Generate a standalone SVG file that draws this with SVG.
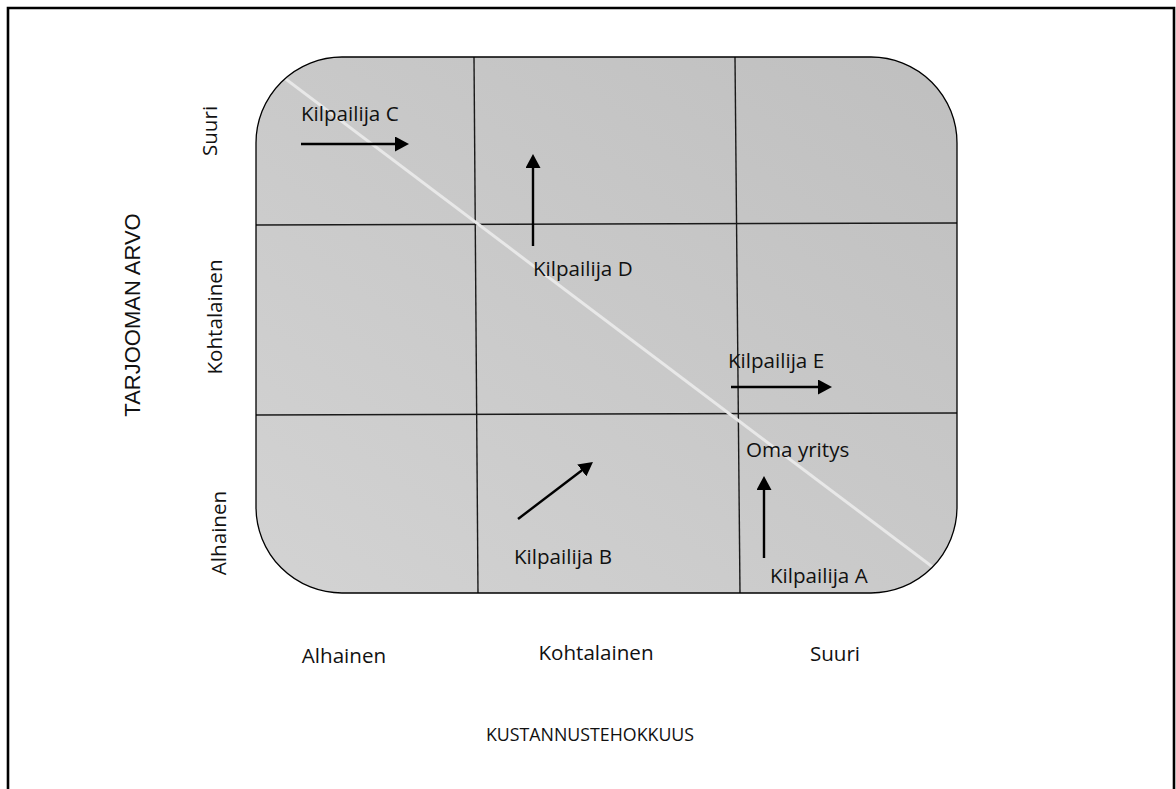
<svg xmlns="http://www.w3.org/2000/svg" width="1176" height="789" viewBox="0 0 1176 789">
  <style>
    .lbl { font-family: "Open Sans", "Noto Sans", sans-serif; font-size: 20.6px; fill: #111; }
    .ttl { font-family: "Open Sans", "Noto Sans", sans-serif; font-size: 17.8px; fill: #111; }
    .ax { font-family: "Liberation Sans", Arial, sans-serif; font-size: 22px; fill: #111; }
    .grid { stroke: #1a1a1a; stroke-width: 1.4; fill: none; }
    .arr { stroke: #000; stroke-width: 2.4; fill: none; marker-end: url(#head); }
  </style>
  <defs>
    <linearGradient id="bg" x1="0" y1="1" x2="1" y2="0">
      <stop offset="0" stop-color="#d3d3d3"/>
      <stop offset="1" stop-color="#bfbfbf"/>
    </linearGradient>
    <clipPath id="clip">
      <rect x="256" y="57" width="701" height="536" rx="86" ry="86"/>
    </clipPath>
    <marker id="head" viewBox="0 0 14 15" refX="4" refY="7.5" markerWidth="14" markerHeight="15" markerUnits="userSpaceOnUse" orient="auto">
      <path d="M0,0 L14,7.5 L0,15 Z" fill="#000"/>
    </marker>
  </defs>

  <rect x="0" y="0" width="1176" height="789" fill="#fff"/>
  <path id="frame" d="M8,800 L8,8 L1174,8 L1174,800" fill="none" stroke="#000" stroke-width="2.6"/>

  <g id="matrix">
    <rect x="256" y="57" width="701" height="536" rx="86" ry="86" fill="url(#bg)"/>
    <g clip-path="url(#clip)">
      <line x1="474" y1="57" x2="478" y2="593" class="grid"/>
      <line x1="735" y1="57" x2="740" y2="593" class="grid"/>
      <line x1="256" y1="225" x2="957" y2="223" class="grid"/>
      <line x1="256" y1="415" x2="957" y2="413" class="grid"/>
      <line x1="240" y1="44.6" x2="960" y2="587.6" stroke="#e8e8e8" stroke-width="3"/>
    </g>
    <rect x="256" y="57" width="701" height="536" rx="86" ry="86" fill="none" stroke="#000" stroke-width="1.3"/>
  </g>

  <g id="y-axis">
    <text class="ax" text-anchor="middle" transform="translate(140,315) rotate(-90)">TARJOOMAN ARVO</text>
    <text class="lbl" text-anchor="middle" transform="translate(217,131) rotate(-90)">Suuri</text>
    <text class="lbl" text-anchor="middle" transform="translate(222,317) rotate(-90)">Kohtalainen</text>
    <text class="lbl" text-anchor="middle" transform="translate(226,533) rotate(-90)">Alhainen</text>
  </g>

  <g id="x-axis">
    <text class="lbl" x="344" y="663" text-anchor="middle">Alhainen</text>
    <text class="lbl" x="596" y="660" text-anchor="middle">Kohtalainen</text>
    <text class="lbl" x="835" y="661" text-anchor="middle">Suuri</text>
    <text class="ttl" x="590" y="741" text-anchor="middle">KUSTANNUSTEHOKKUUS</text>
  </g>

  <g id="kilpailija-c"><text class="lbl" x="301" y="121">Kilpailija C</text></g>
  <g id="kilpailija-d"><text class="lbl" x="533" y="276">Kilpailija D</text></g>
  <g id="kilpailija-e"><text class="lbl" x="728" y="368">Kilpailija E</text></g>
  <g id="oma-yritys"><text class="lbl" x="746" y="457">Oma yritys</text></g>
  <g id="kilpailija-a"><text class="lbl" x="770" y="583">Kilpailija A</text></g>
  <g id="kilpailija-b"><text class="lbl" x="514" y="564">Kilpailija B</text></g>

  <g id="connectors">
    <line class="arr" x1="301" y1="144" x2="399" y2="144"/>
    <line class="arr" x1="533" y1="246" x2="533" y2="164"/>
    <line class="arr" x1="731" y1="387" x2="822" y2="387"/>
    <line class="arr" x1="764" y1="558" x2="764" y2="486"/>
    <line class="arr" x1="518" y1="519" x2="585" y2="468"/>
  </g>
</svg>
